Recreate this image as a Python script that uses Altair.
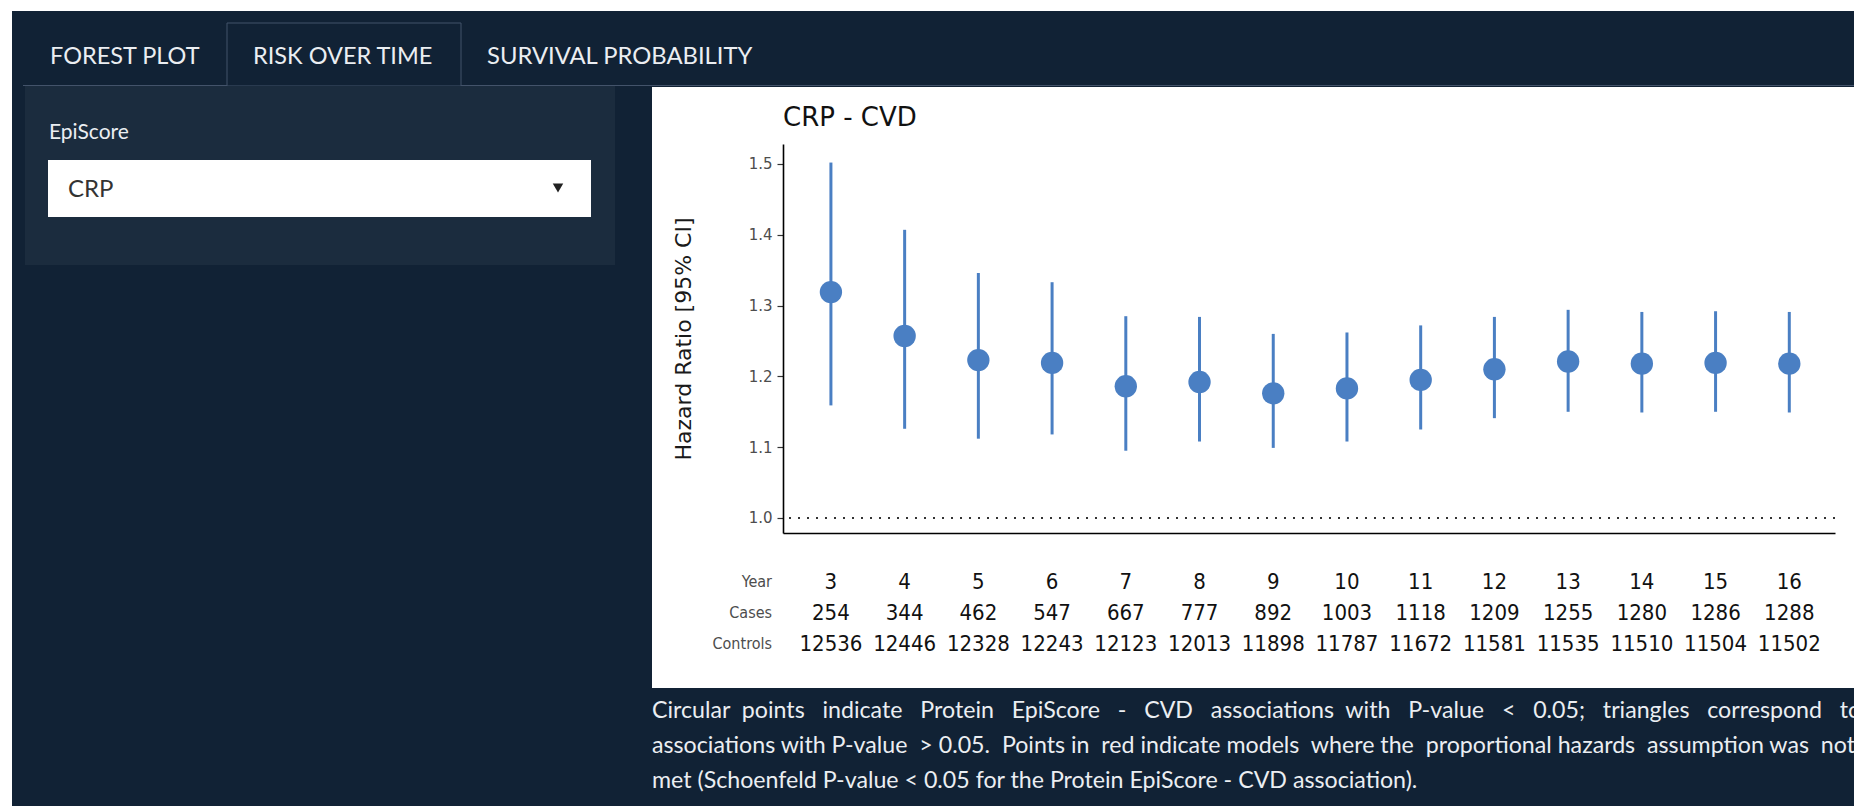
import altair as alt
import pandas as pd

# ---------------------------------------------------------------- data
years = [3, 4, 5, 6, 7, 8, 9, 10, 11, 12, 13, 14, 15, 16]
hazard_ratio = [1.319, 1.257, 1.223, 1.219, 1.186, 1.192, 1.176,
                1.183, 1.195, 1.210, 1.221, 1.218, 1.219, 1.218]
ci_lower = [1.159, 1.126, 1.112, 1.118, 1.095, 1.108, 1.099,
            1.108, 1.125, 1.141, 1.150, 1.149, 1.150, 1.149]
ci_upper = [1.502, 1.407, 1.346, 1.333, 1.285, 1.284, 1.260,
            1.262, 1.272, 1.284, 1.294, 1.291, 1.292, 1.291]
cases = [254, 344, 462, 547, 667, 777, 892, 1003, 1118, 1209, 1255, 1280, 1286, 1288]
controls = [12536, 12446, 12328, 12243, 12123, 12013, 11898,
            11787, 11672, 11581, 11535, 11510, 11504, 11502]
row_labels = ["Year", "Cases", "Controls"]
y_ticks = [1.0, 1.1, 1.2, 1.3, 1.4, 1.5]
reference_line = [1.0]

plot_title = "CRP - CVD"
y_title = "Hazard Ratio [95% CI]"
tab_labels = ["FOREST PLOT", "RISK OVER TIME", "SURVIVAL PROBABILITY"]
select_label = "EpiScore"
select_value = "CRP"
caption_lines = [
    "Circular points indicate Protein EpiScore - CVD associations with P-value < 0.05; triangles correspond to",
    "associations with P-value > 0.05. Points in red indicate models where the proportional hazards assumption was not",
    "met (Schoenfeld P-value < 0.05 for the Protein EpiScore - CVD association).",
]


def justify(line, n_extra):
    """Spread n_extra no-break spaces evenly over the word gaps (justified text)."""
    words = line.split(" ")
    gaps = len(words) - 1
    out = words[0]
    for i, w in enumerate(words[1:]):
        k = (i + 1) * n_extra // gaps - i * n_extra // gaps
        out += " " + "\u00a0" * k + w
    return out


caption_text = [
    justify(caption_lines[0], 26),
    justify(caption_lines[1], 7),
    caption_lines[2],
]

df = pd.DataFrame({"year": years, "hr": hazard_ratio, "lo": ci_lower, "hi": ci_upper,
                   "cases": cases, "controls": controls})
ref_df = pd.DataFrame({"hr": reference_line})
one = pd.DataFrame({"k": [0]})

# ------------------------------------------------------- page geometry
OX, OY = 783, 144          # top-left corner of the plotting area on the page
PW, PH = 1052, 389         # plotting area size
PAGE_W, PAGE_H = 1854, 806

NAVY = "#112235"
WELL = "#1b2c3e"
TAB_LINE = "#43536a"
LIGHT_TEXT = "#ebeef2"
BLUE = "#4a7fc3"
UI_FONT = "Lato"
PLOT_FONT = "DejaVu Sans"
TABLE_FONT = "DejaVu Sans Condensed, DejaVu Sans"


def box(x0, y0, x1, y1, **kw):
    """Rectangle given in page pixels."""
    return alt.Chart(one).mark_rect(**kw).encode(
        x=alt.value(x0 - OX), x2=alt.value(x1 - OX),
        y=alt.value(y0 - OY), y2=alt.value(y1 - OY))


def label(text, x, y, **kw):
    """Text given in page pixels."""
    return alt.Chart(one).mark_text(**kw).encode(
        x=alt.value(x - OX), y=alt.value(y - OY), text=alt.value(text))


# ---------------------------------------------------------- app chrome
chrome = [
    box(0, 0, PAGE_W, 11, color="#ffffff"),
    box(0, 0, 12, PAGE_H, color="#ffffff"),
    box(23, 85, PAGE_W, 86, color=TAB_LINE),
    box(227, 23, 461, 86, fill=NAVY, stroke=TAB_LINE, strokeWidth=1),
    box(25, 86, 615, 265, color=WELL),
    box(48, 160, 591, 217, color="#ffffff"),
    box(652, 87, PAGE_W + 5, 688, color="#ffffff"),
]

tab_x = [50, 253, 487]
tab_size = [23.5, 23.5, 23.8]
chrome_text = [
    label(t, x, 57, align="left", baseline="middle", font=UI_FONT,
          fontSize=s, color=LIGHT_TEXT)
    for t, x, s in zip(tab_labels, tab_x, tab_size)
]
chrome_text += [
    label(select_label, 49, 133, align="left", baseline="middle", font=UI_FONT,
          fontSize=21, color=LIGHT_TEXT),
    label(select_value, 68, 190, align="left", baseline="middle", font=UI_FONT,
          fontSize=24, color="#333333"),
    alt.Chart(one).mark_point(shape="triangle-down", filled=True, size=110,
                              color="#222222", opacity=1).encode(
        x=alt.value(558 - OX), y=alt.value(188 - OY)),
]
chrome_text += [
    label(line, 652, 711 + 35 * i, align="left", baseline="middle", font=UI_FONT,
          fontSize=23.2, color=LIGHT_TEXT)
    for i, line in enumerate(caption_text)
]

# ----------------------------------------------------------------- plot
x_enc = alt.X("year:Q",
              scale=alt.Scale(domain=[2.35, 16.62], nice=False, zero=False),
              axis=alt.Axis(title=None, labels=False, ticks=False, grid=False,
                            domain=True, domainColor="#000000", domainWidth=1.6,
                            zindex=1))
y_axis = alt.Axis(title=y_title, values=y_ticks, format=".1f", grid=False,
                  domainColor="#000000", domainWidth=1.6,
                  tickColor="#333333", tickSize=6, tickWidth=1.2,
                  labelFont=PLOT_FONT, labelFontSize=15, labelColor="#4d4d4d",
                  labelPadding=5,
                  titleFont=PLOT_FONT, titleFontSize=22, titleFontWeight="normal",
                  titleColor="#1a1a1a", titleX=-100, titleY=PH / 2,
                  titleBaseline="middle", titleAngle=270, zindex=1)
y_scale = alt.Scale(domain=[0.9788, 1.5282], nice=False, zero=False)

ref_rule = alt.Chart(ref_df).mark_rule(
    color="#333333", strokeWidth=2, strokeDash=[2, 7]).encode(
    y=alt.Y("hr:Q", scale=y_scale, axis=y_axis))

bars = alt.Chart(df).mark_rule(color=BLUE, strokeWidth=3).encode(
    x=x_enc, y=alt.Y("lo:Q", scale=y_scale, axis=y_axis), y2="hi:Q")

points = alt.Chart(df).mark_circle(color=BLUE, size=500, opacity=1).encode(
    x=x_enc, y=alt.Y("hr:Q", scale=y_scale, axis=y_axis))

title_text = label(plot_title, 783, 118, align="left", baseline="middle",
                   font=PLOT_FONT, fontSize=26, color="#111111")

row_y = [582, 613, 644]
row_fields = ["year", "cases", "controls"]
table = []
for name, field, yy in zip(row_labels, row_fields, row_y):
    table.append(alt.Chart(df).mark_text(
        font=TABLE_FONT, fontSize=22, color="#111111", baseline="middle").encode(
        x=x_enc, y=alt.value(yy - OY), text=alt.Text(f"{field}:N")))
    table.append(label(name, 772, yy, align="right", baseline="middle",
                       font=TABLE_FONT, fontSize=16, color="#4d4d4d"))

chart = alt.layer(*chrome, ref_rule, bars, points, title_text, *table,
                  *chrome_text).properties(
    width=PW, height=PH,
    padding={"left": OX, "top": OY, "right": PAGE_W - OX - PW,
             "bottom": PAGE_H - OY - PH},
    autosize=alt.AutoSizeParams(type="none"),
    background=NAVY,
).configure_view(stroke=None)

chart.save("out.html", embed_options={"renderer": "svg", "actions": False})
